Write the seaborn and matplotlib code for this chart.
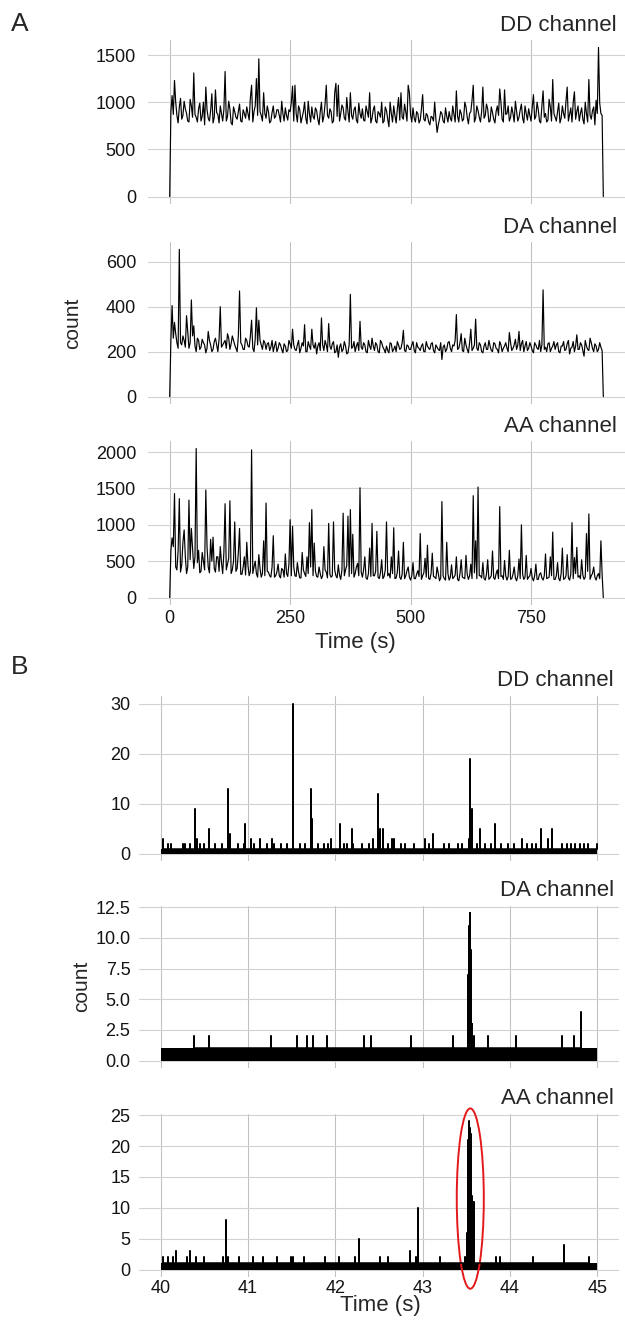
import numpy as np
import pandas as pd
import matplotlib
matplotlib.use('Agg')
import matplotlib.pyplot as plt
from matplotlib.patches import Ellipse
import seaborn as sns

# ---------------------------------------------------------------
# Panel A: counts over the whole movie (0-900 s)
# values on the 5 s grid and on the half-step points in between
# ---------------------------------------------------------------
tiempo_a = np.arange(0, 905, 5)
tiempo_a_mid = np.arange(2.5, 900, 5)

dd_a = [0, 1070, 1230, 860, 950, 820, 1010, 880, 790, 960,
        1310, 840, 930, 800, 1000, 1160, 830, 910, 780, 1130,
        870, 960, 800, 1325, 850, 930, 760, 900, 820, 980,
        790, 880, 950, 810, 1180, 900, 1250, 1460, 860, 1100,
        830, 900, 800, 960, 850, 920, 790, 880, 940, 810,
        900, 1170, 1180, 790, 920, 840, 1000, 770, 880, 950,
        820, 910, 760, 1000, 850, 1180, 830, 900, 800, 1200,
        1180, 880, 940, 810, 900, 1100, 820, 950, 780, 880,
        930, 800, 900, 1100, 830, 960, 780, 880, 1000, 800,
        910, 740, 880, 960, 780, 1050, 1100, 820, 900, 1180,
        860, 940, 790, 880, 810, 1080, 800, 860, 760, 840,
        1000, 680, 820, 880, 780, 850, 900, 800, 870, 1120,
        790, 880, 820, 950, 770, 900, 1180, 830, 910, 790,
        1160, 860, 930, 800, 890, 780, 960, 1140, 820, 1130,
        880, 800, 950, 790, 900, 840, 980, 780, 880, 930,
        800, 1080, 850, 920, 780, 1120, 880, 810, 950, 1240,
        840, 900, 780, 960, 830, 1160, 870, 790, 1110, 900,
        800, 940, 770, 880, 1240, 820, 950, 1020, 1580, 880,
        0]
dd_a_mid = [900, 870, 1000, 780, 1040, 860, 930, 800, 1030, 840,
            870, 790, 990, 850, 760, 920, 800, 1090, 840, 890,
            780, 880, 920, 800, 1010, 780, 950, 840, 900, 800,
            920, 830, 880, 1050, 790, 960, 860, 900, 800, 880,
            960, 780, 890, 830, 920, 860, 1010, 800, 860, 920,
            1000, 800, 880, 960, 780, 900, 830, 1010, 790, 850,
            940, 820, 900, 790, 980, 860, 930, 780, 1100, 850,
            800, 970, 830, 1050, 790, 860, 920, 810, 990, 830,
            810, 960, 840, 780, 920, 800, 900, 840, 780, 950,
            820, 1000, 790, 860, 930, 810, 840, 980, 800, 1100,
            790, 830, 900, 780, 930, 820, 880, 790, 850, 800,
            820, 760, 900, 800, 940, 790, 830, 960, 790, 850,
            920, 800, 1000, 840, 880, 1020, 790, 960, 840, 900,
            830, 980, 790, 950, 820, 900, 860, 1000, 790, 870,
            960, 840, 880, 1010, 800, 920, 830, 960, 810, 860,
            950, 820, 1000, 800, 960, 840, 790, 1030, 800, 880,
            800, 990, 830, 880, 1010, 800, 940, 1000, 820, 960,
            880, 820, 1000, 790, 860, 910, 760, 880, 990, 860]

da_a = [0, 405, 330, 240, 655, 230, 250, 360, 215, 430,
        315, 200, 250, 220, 240, 195, 290, 230, 210, 260,
        200, 400, 230, 250, 280, 210, 270, 230, 200, 470,
        230, 210, 250, 220, 340, 200, 395, 340, 230, 250,
        210, 240, 220, 200, 245, 215, 230, 195, 225, 205,
        235, 300, 210, 230, 195, 240, 320, 200, 225, 300,
        215, 190, 240, 350, 205, 230, 325, 210, 245, 200,
        175, 235, 210, 225, 195, 455, 220, 200, 240, 335,
        210, 230, 195, 225, 260, 205, 230, 195, 240, 210,
        225, 195, 235, 210, 200, 230, 215, 295, 200, 225,
        210, 245, 195, 220, 205, 235, 200, 225, 210, 240,
        195, 220, 205, 165, 230, 210, 245, 200, 225, 365,
        215, 280, 200, 230, 195, 300, 215, 345, 205, 230,
        195, 240, 210, 225, 200, 235, 210, 245, 200, 225,
        215, 285, 205, 230, 210, 290, 235, 200, 245, 215,
        225, 195, 230, 210, 200, 475, 220, 235, 200, 225,
        210, 240, 195, 225, 205, 235, 190, 220, 200, 275,
        210, 230, 180, 225, 205, 240, 200, 225, 210, 220,
        0]
da_a_mid = [250, 260, 280, 215, 240, 270, 220, 290, 240, 270,
            225, 260, 210, 255, 230, 215, 250, 200, 245, 230,
            255, 220, 240, 215, 260, 235, 250, 215, 270, 240,
            210, 260, 225, 270, 215, 255, 230, 250, 210, 240,
            235, 205, 250, 225, 200, 240, 210, 235, 200, 250,
            215, 230, 205, 250, 215, 225, 200, 245, 210, 230,
            240, 225, 205, 230, 250, 200, 225, 235, 195, 230,
            220, 200, 245, 190, 230, 215, 245, 225, 205, 220,
            240, 200, 250, 210, 225, 240, 200, 250, 220, 195,
            205, 240, 200, 225, 245, 210, 240, 205, 230, 210,
            230, 205, 240, 215, 225, 200, 245, 215, 235, 205,
            230, 210, 240, 220, 200, 240, 215, 230, 250, 210,
            240, 205, 260, 210, 240, 205, 230, 215, 240, 200,
            225, 210, 250, 205, 240, 215, 195, 230, 215, 240,
            200, 240, 215, 255, 230, 205, 250, 225, 205, 240,
            205, 240, 215, 250, 230, 210, 200, 240, 215, 245,
            230, 200, 225, 245, 210, 250, 215, 245, 225, 210,
            240, 205, 250, 210, 260, 215, 235, 200, 240, 205]

aa_a = [0, 820, 1430, 380, 1360, 450, 930, 330, 1340, 950,
        400, 2050, 650, 360, 500, 1480, 420, 800, 830, 350,
        560, 700, 330, 1290, 460, 1330, 380, 1040, 400, 950,
        320, 560, 760, 300, 2030, 420, 330, 590, 280, 780,
        1300, 350, 280, 850, 300, 460, 270, 380, 600, 290,
        1070, 980, 300, 480, 270, 620, 330, 560, 1030, 1210,
        750, 290, 420, 260, 700, 350, 1020, 280, 1040, 300,
        450, 250, 1160, 380, 1120, 1210, 870, 330, 470, 1510,
        280, 560, 250, 680, 1020, 300, 910, 260, 520, 290,
        1040, 330, 560, 960, 270, 640, 250, 760, 300, 420,
        240, 480, 260, 370, 880, 300, 540, 720, 250, 610,
        280, 420, 230, 1320, 260, 760, 240, 450, 280, 560,
        230, 520, 270, 580, 250, 460, 1400, 780, 1520, 300,
        480, 240, 520, 270, 640, 250, 380, 1250, 300, 510,
        240, 650, 260, 420, 230, 530, 1000, 250, 580, 280,
        400, 230, 460, 250, 340, 240, 600, 270, 560, 900,
        250, 480, 230, 680, 260, 590, 240, 1030, 550, 690,
        300, 520, 250, 880, 1150, 300, 420, 240, 330, 780,
        0]
aa_a_mid = [640, 700, 420, 640, 350, 760, 560, 420, 520, 680,
            560, 480, 340, 620, 380, 700, 340, 500, 400, 560,
            360, 480, 620, 380, 540, 330, 500, 360, 620, 320,
            420, 310, 440, 360, 330, 500, 280, 400, 330, 300,
            360, 300, 420, 280, 350, 300, 400, 280, 330, 460,
            300, 420, 290, 350, 270, 380, 290, 330, 420, 300,
            360, 280, 330, 300, 380, 270, 320, 300, 380, 270,
            310, 380, 300, 440, 290, 330, 280, 420, 300, 350,
            380, 270, 330, 290, 300, 360, 280, 340, 260, 380,
            300, 270, 330, 260, 350, 280, 320, 260, 370, 280,
            300, 260, 320, 290, 250, 340, 280, 260, 330, 290,
            260, 330, 270, 300, 240, 330, 280, 260, 310, 250,
            330, 280, 260, 320, 300, 260, 340, 260, 300, 270,
            260, 320, 250, 300, 270, 330, 260, 290, 250, 300,
            290, 250, 320, 270, 300, 260, 320, 280, 250, 300,
            270, 300, 250, 320, 270, 300, 260, 280, 300, 250,
            300, 260, 330, 250, 300, 270, 320, 260, 330, 280,
            260, 310, 280, 360, 250, 330, 280, 300, 260, 320]

# ---------------------------------------------------------------
# Panel B: 40-45 s window, 0/1 photon background plus bursts
# ---------------------------------------------------------------
fondo_b_t = [40, 45]
fondo_b_cuentas = [1, 1]

dd_b_t = [40.03, 40.08, 40.12, 40.25, 40.28, 40.33, 40.396, 40.41, 40.45, 40.5,
          40.557, 40.62, 40.7, 40.773, 40.787, 40.88, 40.95, 40.966, 41.035, 41.07,
          41.136, 41.22, 41.274, 41.3, 41.38, 41.45, 41.518, 41.6, 41.65, 41.72,
          41.734, 41.8, 41.87, 41.92, 41.955, 42.056, 42.1, 42.13, 42.185, 42.2,
          42.3, 42.38, 42.433, 42.484, 42.516, 42.544, 42.6, 42.654, 42.677, 42.75,
          42.8, 42.9, 43.031, 43.07, 43.119, 43.25, 43.3, 43.4, 43.45, 43.528,
          43.546, 43.56, 43.62, 43.652, 43.72, 43.78, 43.827, 43.9, 43.98, 44.05,
          44.135, 44.2, 44.25, 44.3, 44.356, 44.434, 44.48, 44.6, 44.65, 44.7,
          44.75, 44.8, 44.85, 44.9, 45.0]
dd_b_h = [3, 2, 2, 2, 2, 2, 9, 3, 2, 2,
          5, 2, 2, 13, 4, 2, 2, 6, 3, 2,
          3, 2, 3, 2, 2, 2, 30, 2, 2, 13,
          7, 2, 2, 2, 3, 6, 2, 2, 5, 2,
          2, 2, 3, 12, 5, 5, 2, 3, 3, 2,
          2, 2, 3, 2, 4, 2, 2, 2, 2, 3,
          19, 9, 2, 5, 2, 2, 6, 2, 2, 2,
          3, 2, 2, 2, 5, 3, 5, 2, 2, 2,
          2, 2, 2, 2, 2]

da_b_t = [40.38, 40.557, 41.26, 41.555, 41.674, 41.739, 41.9, 42.323, 42.41, 42.87,
          43.349, 43.52, 43.525, 43.529, 43.533, 43.537, 43.541, 43.545, 43.549, 43.553,
          43.557, 43.561, 43.566, 43.583, 43.753, 44.066, 44.6, 44.729, 44.816]
da_b_h = [2, 2, 2, 2, 2, 2, 2, 2, 2, 2,
          2, 5, 7, 11, 9, 12, 10, 12, 9, 8,
          6, 3, 3, 2, 2, 2, 2, 2, 4]

aa_b_t = [40.02, 40.08, 40.14, 40.17, 40.3, 40.34, 40.4, 40.5, 40.716, 40.748,
          40.77, 40.9, 41.06, 41.17, 41.33, 41.49, 41.52, 41.64, 41.88, 42.04,
          42.22, 42.27, 42.51, 42.6, 42.856, 42.925, 42.952, 43.2, 43.49,
          43.512, 43.516, 43.52, 43.524, 43.528, 43.532, 43.536, 43.54, 43.544, 43.548,
          43.552, 43.556, 43.56, 43.564, 43.568, 43.572, 43.576, 43.58, 43.584, 43.588,
          43.84, 43.89, 44.26, 44.62, 44.91]
aa_b_h = [2, 2, 2, 3, 2, 3, 2, 2, 2, 8,
          2, 2, 2, 2, 2, 2, 2, 2, 2, 2,
          2, 5, 2, 2, 3, 2, 10, 2, 2,
          6, 16, 12, 21, 15, 20, 24, 17, 23, 18,
          22, 14, 12, 8, 12, 9, 11, 7, 11, 4,
          2, 2, 2, 4, 2]

canales = ['DD channel', 'DA channel', 'AA channel']

yticks_a = [[0, 500, 1000, 1500], [0, 200, 400, 600], [0, 500, 1000, 1500, 2000]]
yticks_b = [[0, 10, 20, 30], [0, 2.5, 5, 7.5, 10, 12.5], [0, 5, 10, 15, 20, 25]]
xticks_a = [0, 250, 500, 750]
xticks_b = [40, 41, 42, 43, 44, 45]

W, H = 625, 1322

sns.set_style('whitegrid')
plt.rcParams['font.family'] = ['Liberation Sans', 'DejaVu Sans']


def traza_completa(valores, valores_mid):
    """Merges the grid samples and the half-step samples into one trace."""
    df = pd.concat([pd.DataFrame({'time': tiempo_a, 'count': valores}),
                    pd.DataFrame({'time': tiempo_a_mid, 'count': valores_mid})])
    return df.sort_values('time').reset_index(drop=True)


def traza_picos(tiempos, alturas, base=1):
    """Builds a line trace that jumps from the background to each burst."""
    xs, ys = [], []
    for t, h in zip(tiempos, alturas):
        xs += [t, t, t]
        ys += [base, h, base]
    return pd.DataFrame({'time': xs, 'count': ys})


def estilo_panel(ax, xticks, yticks, mostrar_x, pad_y, pad_x):
    """ggplot-like minimal look: grey grid, no spines, no tick marks."""
    sns.despine(ax=ax, left=True, bottom=True)
    ax.set_xticks(xticks)
    ax.set_yticks(yticks)
    ax.grid(False)
    ax.grid(axis='x', color='#C0C0C0', linewidth=0.75)
    ax.grid(axis='y', color='#D2D2D2', linewidth=0.8)
    ax.set_axisbelow(True)
    ax.tick_params(axis='y', length=0, labelsize=13, labelcolor='#141414', pad=pad_y)
    ax.tick_params(axis='x', length=0, labelsize=13, labelcolor='#141414', pad=pad_x,
                   labelbottom=mostrar_x)
    ax.set_xlabel('')
    ax.set_ylabel('')


def caja(izq, der, arriba, abajo):
    return [izq / W, 1 - abajo / H, (der - izq) / W, (abajo - arriba) / H]


fig = plt.figure(figsize=(W / 100, H / 100), dpi=100)

# --- panel A ---
cajas_a = [caja(148, 625, 40, 204), caja(148, 625, 242, 404), caja(148, 625, 441, 605)]
series_a = [(dd_a, dd_a_mid), (da_a, da_a_mid), (aa_a, aa_a_mid)]
for i, ((serie, serie_mid), rect) in enumerate(zip(series_a, cajas_a)):
    ax = fig.add_axes(rect)
    sns.lineplot(data=traza_completa(serie, serie_mid), x='time', y='count', ax=ax,
                 color='black', linewidth=0.85, estimator=None, sort=False)
    estilo_panel(ax, xticks_a, yticks_a[i], i == 2, 8.6, 3.6)
    ax.annotate(canales[i], xy=(1, 1), xycoords='axes fraction', xytext=(-8, 9),
                textcoords='offset pixels', ha='right', va='baseline', fontsize=16)

# --- panel B ---
cajas_b = [caja(139, 619, 696, 861), caja(139, 619, 906, 1068), caja(139, 619, 1114, 1277)]
picos_b = [(dd_b_t, dd_b_h), (da_b_t, da_b_h), (aa_b_t, aa_b_h)]
for i, ((tt, hh), rect) in enumerate(zip(picos_b, cajas_b)):
    ax = fig.add_axes(rect)
    ax.fill_between(fondo_b_t, 0, fondo_b_cuentas, color='black', linewidth=0)
    sns.lineplot(data=traza_picos(tt, hh), x='time', y='count', ax=ax, color='black',
                 linewidth=1.1, estimator=None, sort=False)
    estilo_panel(ax, xticks_b, yticks_b[i], i == 2, 6.2, 2.2)
    ax.annotate(canales[i], xy=(1, 1), xycoords='axes fraction', xytext=(-5, 10),
                textcoords='offset pixels', ha='right', va='baseline', fontsize=16)
    if i == 2:
        # highlight the correlated burst in the AA channel
        t_max = aa_b_t[int(np.argmax(aa_b_h))]
        ax.add_patch(Ellipse((t_max + 0.01, 11.5), 0.31, 29.2, fill=False,
                             edgecolor='#E31A1C', linewidth=1.4, clip_on=False))

# axis titles and panel tags
fig.text(355 / W, 1 - 642 / H, 'Time (s)', ha='center', va='center', fontsize=16)
fig.text(380 / W, 1 - 1306 / H, 'Time (s)', ha='center', va='center', fontsize=16)
fig.text(73 / W, 1 - 323 / H, 'count', ha='center', va='center', rotation=90, fontsize=15)
fig.text(82 / W, 1 - 986 / H, 'count', ha='center', va='center', rotation=90, fontsize=15)
fig.text(20 / W, 1 - 24 / H, 'A', ha='center', va='center', fontsize=19)
fig.text(20 / W, 1 - 667 / H, 'B', ha='center', va='center', fontsize=19)

fig.savefig('out.png', dpi=100)
